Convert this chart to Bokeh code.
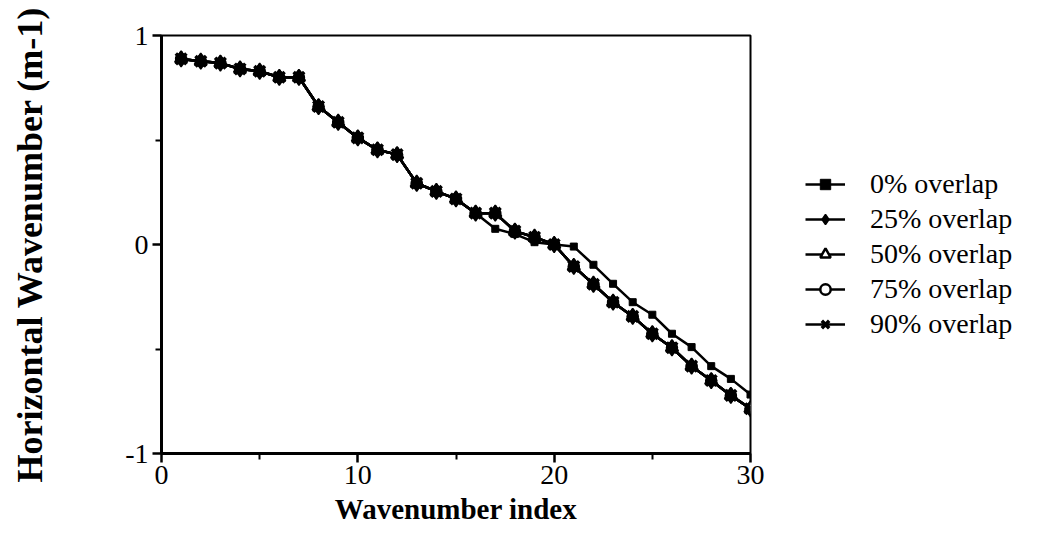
from bokeh.plotting import figure
from bokeh.models import Range1d, FixedTicker, Legend, LegendItem
from bokeh.embed import file_html
from bokeh.resources import INLINE

# Wavenumber index
index = list(range(1, 31))

# Horizontal wavenumber (m-1) for each window overlap
k_0 = [0.888, 0.877, 0.868, 0.840, 0.829, 0.800, 0.800, 0.660, 0.585, 0.510,
       0.453, 0.430, 0.293, 0.254, 0.218, 0.150, 0.075, 0.050, 0.011, 0.000,
       -0.010, -0.097, -0.188, -0.276, -0.336, -0.427, -0.491, -0.582, -0.643, -0.718]
k_25 = [0.888, 0.877, 0.868, 0.840, 0.829, 0.800, 0.800, 0.660, 0.585, 0.510,
        0.453, 0.430, 0.293, 0.254, 0.218, 0.150, 0.150, 0.064, 0.035, 0.000,
        -0.105, -0.190, -0.276, -0.344, -0.427, -0.494, -0.582, -0.651, -0.722, -0.786]
k_50 = [0.888, 0.877, 0.868, 0.840, 0.829, 0.800, 0.800, 0.660, 0.585, 0.510,
        0.453, 0.430, 0.293, 0.254, 0.218, 0.150, 0.150, 0.064, 0.035, 0.000,
        -0.105, -0.190, -0.276, -0.344, -0.427, -0.494, -0.582, -0.651, -0.722, -0.786]
k_75 = [0.888, 0.877, 0.868, 0.840, 0.829, 0.800, 0.800, 0.660, 0.585, 0.510,
        0.453, 0.430, 0.293, 0.254, 0.218, 0.150, 0.150, 0.064, 0.035, 0.000,
        -0.105, -0.190, -0.276, -0.344, -0.427, -0.494, -0.582, -0.651, -0.722, -0.786]
k_90 = [0.888, 0.877, 0.868, 0.840, 0.829, 0.800, 0.800, 0.660, 0.585, 0.510,
        0.453, 0.430, 0.293, 0.254, 0.218, 0.150, 0.150, 0.064, 0.035, 0.000,
        -0.105, -0.190, -0.276, -0.344, -0.427, -0.494, -0.582, -0.651, -0.722, -0.786]

labels = ["0% overlap", "25% overlap", "50% overlap", "75% overlap", "90% overlap"]
series = [k_0, k_25, k_50, k_75, k_90]
markers = [
    dict(marker="square", size=7, fill_color="black", line_width=1),
    dict(marker="diamond", size=16, fill_color="black", line_width=1.5),
    dict(marker="triangle", size=12, fill_color="white", line_width=2.5),
    dict(marker="circle", size=10, fill_color="white", line_width=2.5),
    dict(marker="x", size=15, fill_color=None, line_width=3.5),
]
# stacking order: open markers underneath, filled ones on top
draw_order = [3, 2, 4, 1, 0]

SERIF = "Liberation Serif"

p = figure(frame_width=589, frame_height=418, output_backend="svg", toolbar_location=None,
           x_range=Range1d(0, 30), y_range=Range1d(-1, 1),
           min_border_left=161, min_border_right=0,
           min_border_top=35, min_border_bottom=91)

p.background_fill_color = "white"
p.border_fill_color = "white"
p.outline_line_color = "black"
p.outline_line_width = 2
p.xgrid.visible = False
p.ygrid.visible = False

p.xaxis.ticker = FixedTicker(ticks=[0, 10, 20, 30], minor_ticks=[5, 15, 25])
p.yaxis.ticker = FixedTicker(ticks=[-1, 0, 1], minor_ticks=[-0.5, 0.5])
p.yaxis.major_label_overrides = {-1: "-1", 0: "0", 1: "1"}

for ax in (p.xaxis, p.yaxis):
    ax.axis_line_width = 3
    ax.axis_line_color = "black"
    ax.major_tick_line_color = "black"
    ax.major_tick_line_width = 2.5
    ax.minor_tick_line_color = "black"
    ax.minor_tick_line_width = 2
    ax.major_tick_in = 0
    ax.major_tick_out = 9
    ax.minor_tick_in = 0
    ax.minor_tick_out = 6
    ax.major_label_text_font = SERIF
    ax.major_label_text_font_size = "28px"
    ax.major_label_text_color = "black"
    ax.axis_label_text_font = SERIF
    ax.axis_label_text_font_style = "bold"
    ax.axis_label_text_color = "black"

p.xaxis.axis_label = "Wavenumber index"
p.xaxis.axis_label_text_font_size = "29px"
p.xaxis.major_label_standoff = 3
p.xaxis.axis_label_standoff = 6

p.yaxis.axis_label = "Horizontal Wavenumber (m-1)"
p.yaxis.axis_label_text_font_size = "36px"
p.yaxis.major_label_standoff = 4
p.yaxis.axis_label_standoff = 72

lines = {}
for i in range(len(series)):
    lines[i] = p.line(index, series[i], line_color="black", line_width=2.5)
dots = {}
for i in draw_order:
    dots[i] = p.scatter(index, series[i], line_color="black", **markers[i])

items = [LegendItem(label=labels[i], renderers=[lines[i], dots[i]]) for i in range(len(series))]

# legend in the right-hand panel, offset from the panel's lower-left corner
legend = Legend(items=items, location=(55, 112))
legend.glyph_width = 40
legend.glyph_height = 26
legend.label_height = 35
legend.spacing = 0
legend.padding = 0
legend.margin = 0
legend.label_standoff = 25
legend.label_text_font = SERIF
legend.label_text_font_size = "28px"
legend.label_text_color = "black"
legend.border_line_color = None
legend.background_fill_alpha = 0
p.add_layout(legend, "right")

open("out.html", "w").write(file_html(p, INLINE))
